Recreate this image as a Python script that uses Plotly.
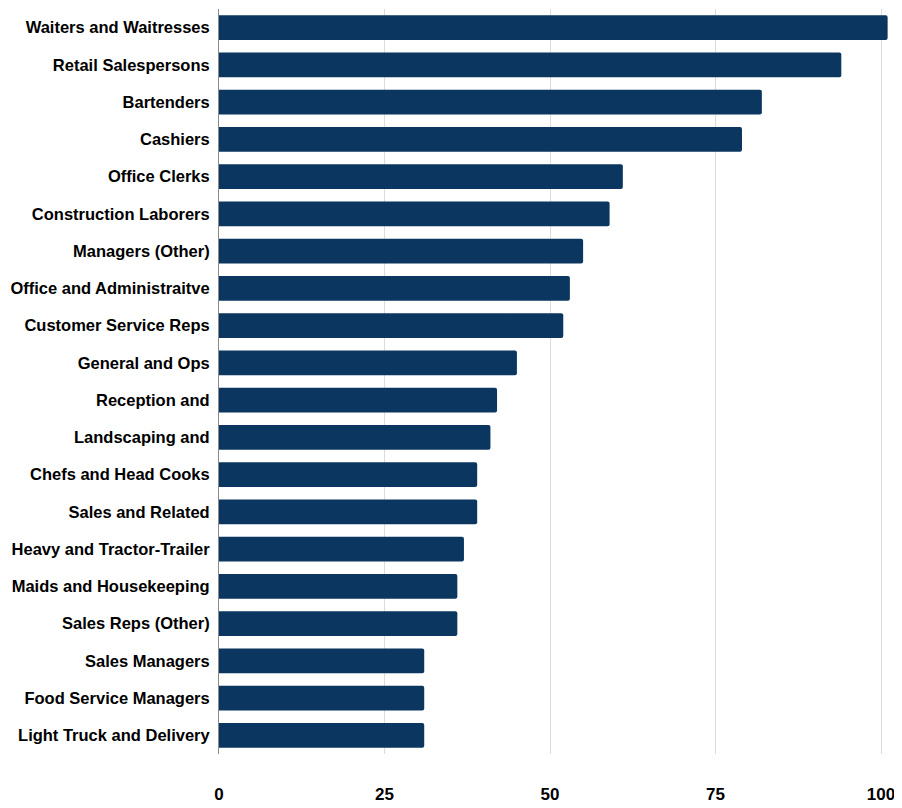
import plotly.graph_objects as go

occupations = [
    "Waiters and Waitresses", "Retail Salespersons", "Bartenders", "Cashiers",
    "Office Clerks", "Construction Laborers", "Managers (Other)",
    "Office and Administraitve", "Customer Service Reps", "General and Ops",
    "Reception and", "Landscaping and", "Chefs and Head Cooks", "Sales and Related",
    "Heavy and Tractor-Trailer", "Maids and Housekeeping", "Sales Reps (Other)",
    "Sales Managers", "Food Service Managers", "Light Truck and Delivery",
]
values = [101, 94, 82, 79, 61, 59, 55, 53, 52, 45, 42, 41, 39, 39, 37, 36, 36, 31, 31, 31]
x_ticks = [0, 25, 50, 75, 100]

FONT = "Liberation Sans, Arial, sans-serif"

fig = go.Figure(go.Bar(
    x=values, y=occupations, orientation="h",
    marker=dict(color="#0a365f", cornerradius=2, line=dict(width=0)),
))

# page body adds an 8px offset, so the figure is 894x800 inside the 902x808 window
fig.update_layout(
    width=894, height=800,
    margin=dict(l=211, r=0, t=1, b=54),
    paper_bgcolor="white", plot_bgcolor="white",
    bargap=0.33,
    showlegend=False,
    font=dict(family=FONT, color="black"),
)
fig.update_xaxes(
    range=[0, 103.17], tickvals=x_ticks, ticktext=[str(v) for v in x_ticks],
    showgrid=True, gridcolor="#dcdcdc", gridwidth=1,
    zeroline=False, showline=False, ticks="",
    tickfont=dict(family=FONT, size=17, weight="bold", color="black"),
    ticklabelstandoff=28, automargin=False,
)
fig.update_yaxes(
    categoryorder="array", categoryarray=occupations[::-1],
    showgrid=False, showline=True, linecolor="#8a8a8a", linewidth=1,
    ticks="", ticklabelstandoff=5, automargin=False,
    tickfont=dict(family=FONT, size=16.5, weight="bold", color="black"),
)

fig.write_html("out.html")
